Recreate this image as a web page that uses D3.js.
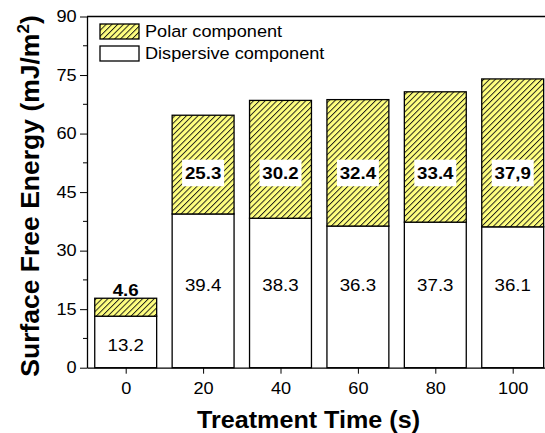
<!DOCTYPE html>
<html lang="en">
<head>
  <meta charset="UTF-8">
  <title>Surface Free Energy</title>
  <script src="https://d3js.org/d3.v7.min.js"></script>
  <style>
    body { margin: 0; background: #fff; }
    svg { font-family: Arial, "Liberation Sans", sans-serif; }
    .axis text { font-size: 16.5px; fill: #000; }
    .axis path, .axis line { stroke: #000; }
  </style>
</head>
<body>
  <svg id="chart" width="545" height="433"></svg>

  <script>
    // dane
    const times = [0, 20, 40, 60, 80, 100];
    const dispersive = [13.2, 39.4, 38.3, 36.3, 37.3, 36.1];
    const polar = [4.6, 25.3, 30.2, 32.4, 33.4, 37.9];
    const polarLabels = ["4.6", "25.3", "30.2", "32.4", "33.4", "37,9"];
    const dispLabels = ["13.2", "39.4", "38.3", "36.3", "37.3", "36.1"];
    const yTicks = [0, 15, 30, 45, 60, 75, 90];
    const yMinor = [7.5, 22.5, 37.5, 52.5, 67.5, 82.5];

    const svg = d3.select("#chart");
    const mLeft = 87, mTop = 16.5, mBottom = 367.7;
    const sx = 1.1; // tekst w oryginale jest lekko rozciągnięty w poziomie

    const x = d3.scaleLinear().domain([-10, 110]).range([mLeft, mLeft + 120 * 3.87]);
    const y = d3.scaleLinear().domain([0, 90]).range([mBottom, mTop]);
    const barW = 16; // w jednostkach osi x

    // wzór kreskowania
    const pat = svg.append("defs").append("pattern")
      .attr("id", "hatch")
      .attr("patternUnits", "userSpaceOnUse")
      .attr("width", 4.1).attr("height", 4.1)
      .attr("patternTransform", "rotate(45)");
    pat.append("rect").attr("width", 4.1).attr("height", 4.1).attr("fill", "#ffff80");
    pat.append("line").attr("x1", 0.5).attr("y1", 0).attr("x2", 0.5).attr("y2", 4.1)
      .attr("stroke", "#111").attr("stroke-width", 0.9);

    // ramka górna
    svg.append("line")
      .attr("x1", mLeft).attr("x2", 545).attr("y1", mTop).attr("y2", mTop)
      .attr("stroke", "#000").attr("stroke-width", 1.3);

    // słupki - składnik dyspersyjny
    svg.selectAll(".disp")
      .data(times)
      .enter().append("rect")
      .attr("class", "disp")
      .attr("x", (d) => x(d - barW / 2))
      .attr("width", x(barW) - x(0))
      .attr("y", (d, i) => y(dispersive[i]))
      .attr("height", (d, i) => y(0) - y(dispersive[i]))
      .attr("fill", "#fff").attr("stroke", "#000").attr("stroke-width", 1.3);

    // słupki - składnik polarny
    svg.selectAll(".polar")
      .data(times)
      .enter().append("rect")
      .attr("class", "polar")
      .attr("x", (d) => x(d - barW / 2))
      .attr("width", x(barW) - x(0))
      .attr("y", (d, i) => y(dispersive[i] + polar[i]))
      .attr("height", (d, i) => y(dispersive[i]) - y(dispersive[i] + polar[i]))
      .attr("fill", "url(#hatch)").attr("stroke", "#000").attr("stroke-width", 1.3);

    // etykiety dyspersyjne
    svg.selectAll(".dlab")
      .data(times)
      .enter().append("text")
      .attr("transform", (d, i) => `translate(${x(d)},${y(dispersive[i] > 20 ? 21.3 : 5.7)}) scale(${sx},1)`)
      .attr("dy", "0.35em")
      .attr("text-anchor", "middle")
      .attr("font-size", 17)
      .text((d, i) => dispLabels[i]);

    // etykiety polarne
    const plab = svg.selectAll(".plab")
      .data(times)
      .enter().append("g")
      .attr("transform", (d, i) => {
        const v = dispersive[i] > 20 ? 49.9 : dispersive[i] + polar[i] + 2.05;
        return `translate(${x(d)},${y(v)})`;
      });
    plab.filter((d, i) => dispersive[i] > 20)
      .append("rect")
      .attr("x", -21).attr("y", -13.3).attr("width", 42).attr("height", 26.6)
      .attr("fill", "#fff");
    plab.append("text")
      .attr("transform", `scale(${sx},1)`)
      .attr("dy", "0.35em")
      .attr("text-anchor", "middle")
      .attr("font-size", 17).attr("font-weight", "bold")
      .text((d, i) => polarLabels[i]);

    // oś X
    svg.append("g")
      .attr("class", "axis")
      .attr("transform", `translate(0,${mBottom})`)
      .call(d3.axisBottom(x).tickValues(times).tickSize(6).tickPadding(9).tickSizeOuter(0))
      .call((g) => g.select(".domain").attr("stroke-width", 1.3))
      .call((g) => g.selectAll(".tick text").attr("transform", `scale(${sx},1)`));

    // oś Y
    const ya = svg.append("g")
      .attr("class", "axis")
      .attr("transform", `translate(${mLeft},0)`)
      .call(d3.axisLeft(y).tickValues(yTicks).tickSize(7).tickPadding(2.5).tickSizeOuter(0))
      .call((g) => g.select(".domain").attr("stroke-width", 1.3))
      .call((g) => g.selectAll(".tick text").attr("transform", `scale(${sx},1)`));
    ya.selectAll(".minor")
      .data(yMinor)
      .enter().append("line")
      .attr("x1", 0).attr("x2", -4)
      .attr("y1", (d) => y(d)).attr("y2", (d) => y(d))
      .attr("stroke", "#000");

    // legenda
    const legend = [
      { fill: "url(#hatch)", text: "Polar component" },
      { fill: "#fff", text: "Dispersive component" }
    ];
    const lg = svg.selectAll(".leg")
      .data(legend)
      .enter().append("g")
      .attr("transform", (d, i) => `translate(100,${24 + i * 22})`);
    lg.append("rect")
      .attr("width", 39).attr("height", 15)
      .attr("fill", (d) => d.fill).attr("stroke", "#000").attr("stroke-width", 1.3);
    lg.append("text")
      .attr("transform", `translate(45,7.5) scale(${sx},1)`)
      .attr("dy", "0.36em")
      .attr("font-size", 16.5)
      .text((d) => d.text);

    // tytuły osi
    svg.append("text")
      .attr("transform", `translate(308.5,428) scale(1.07,1)`)
      .attr("text-anchor", "middle")
      .attr("font-size", 23.5).attr("font-weight", "bold")
      .text("Treatment Time (s)");

    const yt = svg.append("text")
      .attr("transform", "translate(39,196) rotate(-90)")
      .attr("text-anchor", "middle")
      .attr("font-size", 26.5).attr("font-weight", "bold");
    yt.append("tspan").text("Surface Free Energy (mJ/m");
    yt.append("tspan").attr("dy", -10).attr("font-size", 17).text("2");
    yt.append("tspan").attr("dy", 10).text(")");
  </script>
</body>
</html>
